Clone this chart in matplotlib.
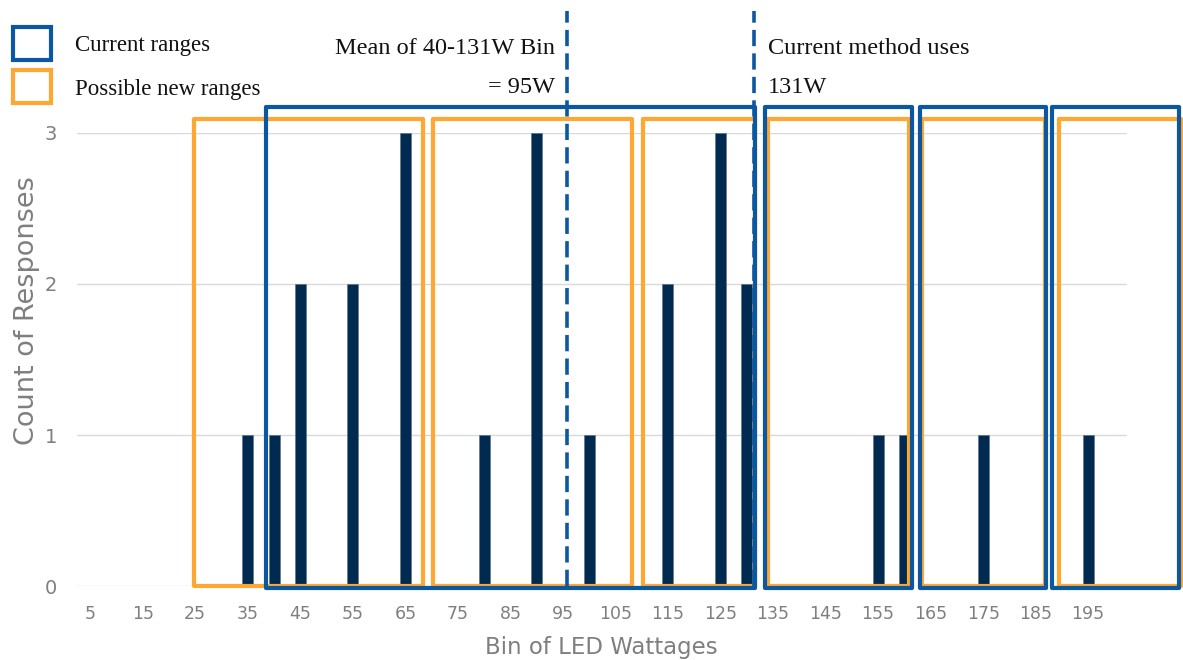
import matplotlib
matplotlib.use("Agg")
import matplotlib.pyplot as plt
from matplotlib.patches import Rectangle

# histogram of LED wattages (bin centre -> count)
bin_labels = [5, 15, 25, 35, 45, 55, 65, 75, 85, 95, 105, 115, 125, 135, 145, 155, 165, 175, 185, 195]
bar_x = [35, 40, 45, 55, 65, 80, 90, 100, 115, 125, 130, 155, 160, 175, 195]
bar_counts = [1, 1, 2, 2, 3, 1, 3, 1, 2, 3, 2, 1, 1, 1, 1]

# wattage ranges drawn as boxes
current_ranges = [(38.4, 131.5), (133.4, 161.5), (163.0, 187.0), (188.1, 212.2)]
new_ranges = [(24.7, 68.4), (70.3, 108.1), (110.2, 131.5), (134.0, 160.9), (163.4, 186.7), (189.5, 212.6)]
current_top = 3.17
new_top = 3.09

# reference lines
mean_watts = 95.7
method_watts = 131.3

BLUE = "#0B57A2"
ORANGE = "#FFA733"
NAVY = "#002A4F"
GREY = "#7F7F7F"

fig = plt.figure(figsize=(11.83, 6.6), dpi=100)
ax = fig.add_axes([0.0647, 0.1121, 0.888, 0.6864])
ax.set_xlim(2.4, 202.4)
ax.set_ylim(0, 3)

ax.bar(bar_x, bar_counts, width=2.1, color=NAVY, edgecolor="#5a6f86", linewidth=0.4, zorder=3)

for lo, hi in new_ranges:
    ax.add_patch(Rectangle((lo, 0), hi - lo, new_top, fill=False, edgecolor=ORANGE,
                           linewidth=3, clip_on=False, zorder=4, joinstyle="round"))
for lo, hi in current_ranges:
    ax.add_patch(Rectangle((lo, -0.012), hi - lo, current_top + 0.012, fill=False, edgecolor=BLUE,
                           linewidth=3, clip_on=False, zorder=5, joinstyle="round"))

for xv in [mean_watts, method_watts]:
    ax.plot([xv, xv], [0, 3.81], color=BLUE, linewidth=2.6, linestyle=(0, (4.5, 2.0)),
            clip_on=False, zorder=6)

ax.set_xticks([b for b in bin_labels])
ax.set_xticklabels([str(b) for b in bin_labels])
ax.set_yticks([0, 1, 2, 3])
ax.tick_params(axis="x", length=0, labelsize=12.5, colors=GREY, pad=14)
ax.tick_params(axis="y", length=0, labelsize=14, colors=GREY, pad=14)
ax.grid(axis="y", color="#D9D9D9", linewidth=1)
ax.set_axisbelow(True)
for s in ax.spines.values():
    s.set_visible(False)

ax.set_xlabel("Bin of LED Wattages", fontsize=16.5, color=GREY, labelpad=9)
ax.set_ylabel("Count of Responses", fontsize=19.5, color=GREY)
ax.yaxis.set_label_coords(-0.0347, 0.609)

serif = "Liberation Serif"
ax.text(mean_watts - 2.2, 3.43, "Mean of 40-131W Bin\n= 95W", ha="right", va="center",
        fontsize=17.5, family=serif, color="#111111", linespacing=2.15)
ax.text(method_watts + 2.8, 3.43, "Current method uses\n131W", ha="left", va="center",
        fontsize=17.5, family=serif, color="#111111", linespacing=2.15)

# legend boxes
W, H = 1183, 660
for (y0, col, label) in [(27, BLUE, "Current ranges"), (70, ORANGE, "Possible new ranges")]:
    fig.add_artist(Rectangle((13 / W, 1 - (y0 + 33) / H), 38 / W, 33 / H, fill=False,
                             edgecolor=col, linewidth=3, transform=fig.transFigure))
    fig.text(75 / W, 1 - (y0 + 19) / H, label, ha="left", va="center", fontsize=16.5,
             family=serif, color="#111111")

fig.savefig("out.png", dpi=100)
